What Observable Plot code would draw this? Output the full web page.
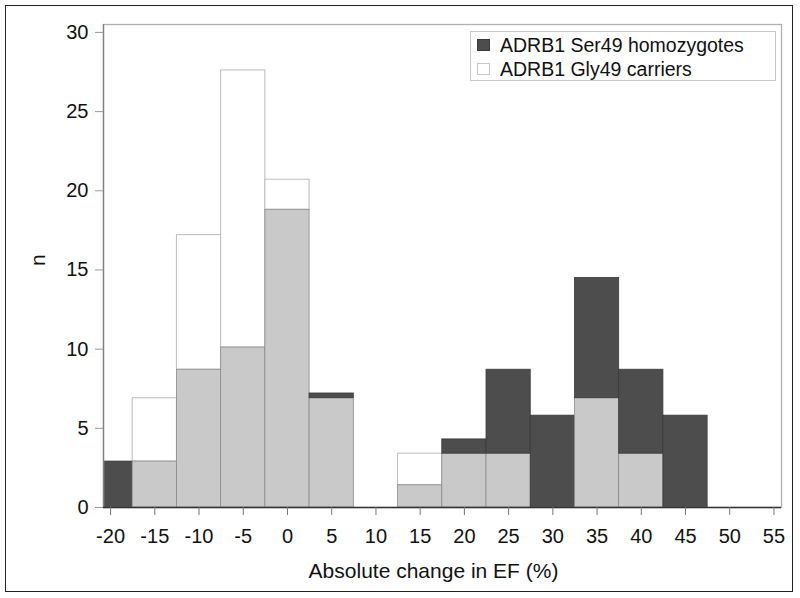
<!DOCTYPE html>
<html>
<head>
<meta charset="utf-8">
<script src="https://cdn.jsdelivr.net/npm/d3@7"></script>
<script src="https://cdn.jsdelivr.net/npm/@observablehq/plot@0.6"></script>
<style>
  body { margin: 0; background: #fff; }
  #wrap { position: relative; width: 800px; height: 598px; font-family: "Liberation Sans", Arial, sans-serif; }
  #wrap svg { position: absolute; left: 0; top: 0; }
  #border { position: absolute; left: 5px; top: 5px; width: 786px; height: 585px; border: 1.6px solid #222; pointer-events: none; }
  #legend { position: absolute; left: 470px; top: 31px; width: 306px; height: 50px; border: 1px solid #c8c8c8; box-sizing: border-box; font-size: 19.5px; color: #111; }
  .row { position: absolute; left: 6px; display: flex; align-items: center; white-space: nowrap; line-height: 22px; }
  .sw { width: 13px; height: 12px; margin-right: 10px; box-sizing: border-box; }
</style>
</head>
<body>
<div id="wrap"><div id="border"></div></div>
<script>
// Bin centres (absolute change in EF, %) and percentages per genotype group
const binCenters = [-20, -15, -10, -5, 0, 5, 10, 15, 20, 25, 30, 35, 40, 45, 50, 55];
const ser49 = [2.9, 2.9, 8.7, 10.1, 18.8, 7.2, 0, 1.4, 4.3, 8.7, 5.8, 14.5, 8.7, 5.8, 0, 0];
const gly49 = [0, 6.9, 17.2, 27.6, 20.7, 6.9, 0, 3.4, 3.4, 3.4, 0, 6.9, 3.4, 0, 0, 0];
const seriesNames = ["ADRB1 Ser49 homozygotes", "ADRB1 Gly49 carriers"];
const xTicks = [-20, -15, -10, -5, 0, 5, 10, 15, 20, 25, 30, 35, 40, 45, 50, 55];
const yTicks = [0, 5, 10, 15, 20, 25, 30];
const binWidth = 5;

const DARK = "#4d4d4d", OVER = "#c9c9c9", LIGHT = "#ffffff";

// overlap (both groups), dark-only excess, white-only excess
const rows = [];
binCenters.forEach((c, i) => {
  const s = ser49[i], g = gly49[i], lo = Math.min(s, g);
  const x1 = c - binWidth / 2, x2 = c + binWidth / 2;
  if (lo > 0) rows.push({x1, x2, y1: 0, y2: lo, kind: "over"});
  if (s > g) rows.push({x1, x2, y1: lo, y2: s, kind: "ser"});
  if (g > s) rows.push({x1, x2, y1: lo, y2: g, kind: "gly"});
});
const fillOf = {over: OVER, ser: DARK, gly: LIGHT};
const strokeOf = {over: "#8a8a8a", ser: "#3a3a3a", gly: "#bdbdbd"};

const chart = Plot.plot({
  width: 800,
  height: 598,
  marginLeft: 103,
  marginRight: 19,
  marginTop: 24,
  marginBottom: 91,
  style: {fontFamily: "Liberation Sans, Arial, sans-serif", fontSize: "20px", color: "#111", background: "transparent"},
  x: {domain: [-20.8, 55.85]},
  y: {domain: [0, 30.5]},
  marks: [
    Plot.rect(rows.filter(d => d.kind === "gly"), {x1: "x1", x2: "x2", y1: "y1", y2: "y2", fill: LIGHT, stroke: strokeOf.gly, strokeWidth: 1, clip: true}),
    Plot.rect(rows.filter(d => d.kind !== "gly"), {x1: "x1", x2: "x2", y1: "y1", y2: "y2", fill: d => fillOf[d.kind], stroke: d => strokeOf[d.kind], strokeWidth: 0.8, clip: true}),
    Plot.frame({stroke: "#b0b0b0", strokeWidth: 1.3}),
    Plot.ruleX([-20.8], {stroke: "#808080", strokeWidth: 1.3}),
    Plot.ruleY([0], {stroke: "#333", strokeWidth: 1.3}),
    Plot.axisX({ticks: xTicks, tickFormat: d => String(d), tickSize: 8, tickPadding: 13, stroke: "#777", fontSize: 20, label: null}),
    Plot.axisY({ticks: yTicks, tickFormat: d => String(d), tickSize: 8, tickPadding: 7, stroke: "#999", fontSize: 20, label: null}),
    Plot.text(["Absolute change in EF (%)"], {frameAnchor: "bottom", dx: -9, dy: 70, fontSize: 21, fill: "#111"}),
    Plot.text(["n"], {frameAnchor: "left", dx: -65, rotate: -90, fontSize: 21, fill: "#111"})
  ]
});
const wrap = document.getElementById("wrap");
wrap.insertBefore(chart, wrap.firstChild);

// legend
const legend = document.createElement("div");
legend.id = "legend";
const swatches = [{fill: DARK, stroke: "#3a3a3a"}, {fill: LIGHT, stroke: "#c8c8c8"}];
seriesNames.forEach((name, i) => {
  const row = document.createElement("div");
  row.className = "row";
  row.style.top = (i === 0 ? 2 : 26) + "px";
  const sw = document.createElement("div");
  sw.className = "sw";
  sw.style.background = swatches[i].fill;
  sw.style.border = "1px solid " + swatches[i].stroke;
  const t = document.createElement("span");
  t.textContent = name;
  row.appendChild(sw); row.appendChild(t);
  legend.appendChild(row);
});
wrap.appendChild(legend);
</script>
</body>
</html>
